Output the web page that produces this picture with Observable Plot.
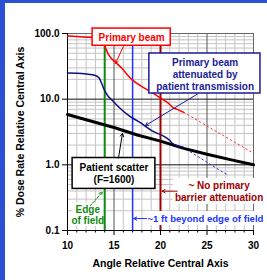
<!DOCTYPE html>
<html>
<head>
<meta charset="utf-8">
<script src="https://cdn.jsdelivr.net/npm/d3@7"></script>
<script src="https://cdn.jsdelivr.net/npm/@observablehq/plot@0.6"></script>
<style>
  html, body { margin: 0; padding: 0; background: #fff; }
  #wrap { position: relative; width: 267px; height: 280px; overflow: hidden; }
  #stripTop { position: absolute; left: 0; top: 0; width: 267px; height: 3px; background: #2b50d4; }
  #stripLeft { position: absolute; left: 0; top: 0; width: 5px; height: 280px; background: #2b50d4; }
</style>
</head>
<body>
<div id="wrap"><div id="chart"></div><div id="stripTop"></div><div id="stripLeft"></div></div>
<script>
// ---- data ----
const primaryAngle = [10, 11, 12, 13, 13.6, 13.85, 14.1, 14.4, 14.7, 15.2, 15.9, 16.5, 17.0, 18.0, 19.0, 19.6, 20.4, 21.0, 21.3, 21.8, 22.5];
const primaryDose  = [92, 90, 88, 85.5, 82, 74, 60, 48, 42, 36, 29, 23, 19.5, 15.5, 12.8, 11.3, 9.6, 8.3, 7.5, 7.0, 6.3];
const primaryExtAngle = [22.5, 30];
const primaryExtDose  = [6.3, 1.5];

const attenAngle = [10, 11, 12, 13, 13.4, 13.7, 13.95, 14.3, 14.8, 15.5, 16.6, 17.7, 19.1, 20.6, 21.0, 21.3, 22.4];
const attenDose  = [25, 24.8, 24.2, 23, 21, 17, 14, 11.4, 9.6, 7.6, 5.6, 4.5, 3.3, 2.6, 2.35, 2.1, 1.86];
const attenExtAngle = [22.4, 27.2];
const attenExtDose  = [1.86, 0.7];

const scatterAngle = [10, 12, 15, 17.5, 20, 22.5, 25, 27.5, 30];
const scatterDose  = [5.85, 4.85, 3.7, 2.85, 2.3, 1.78, 1.45, 1.2, 1.0];

const edgeAngle = [14];
const beyondAngle = [17];
const barrierAngle = [20];

const xTicks = [10, 15, 20, 25, 30];
const xMinor = [11,12,13,14,16,17,18,19,21,22,23,24,26,27,28,29];
const yTicks = [0.1, 1, 10, 100];
const yMinor = [0.2,0.3,0.4,0.5,0.6,0.7,0.8,0.9,2,3,4,5,6,7,8,9,20,30,40,50,60,70,80,90];

const xTitle = "Angle Relative Central Axis";
const yTitle = "% Dose Rate Relative Central Axis";

// ---- annotation layout (data units) ----
const notes = {
  primary: {box: [12.7, 21.1, 65, 119], text: "Primary beam", at: [16.9, 88], arrow: [16.0, 63, 15.16, 35]},
  atten: {box: [18.8, 30.75, 12.2, 49.6], text: "Primary beam\nattenuated by\npatient transmission", at: [24.8, 24.0], arrow: [23.98, 12.0, 18.39, 3.97]},
  scatter: {box: [10.55, 19.45, 0.43, 1.27], text: "Patient scatter\n(F=1600)", at: [15.0, 0.74], arrow: [15.48, 1.27, 15.91, 3.0]},
  edge: {box: [10.6, 13.85, 0.115, 0.262], text: "Edge\nof field", at: [12.18, 0.171], arrow: [12.47, 0.24, 13.73, 0.383]},
  beyond: {box: [18.4, 31.6, 0.119, 0.195], text: "~1 ft beyond edge of field", at: [18.6, 0.152], arrow: [18.5, 0.152, 17.13, 0.152]},
  barrier: {box: [21.4, 31.2, 0.25, 0.62], text: "~ No primary\nbarrier attenuation", at: [26.3, 0.393], arrow: [21.8, 0.397, 20.18, 0.397]}
};

const pts = (xs, ys) => xs.map((x, i) => ({x, y: ys[i]}));

const RED = "#ff0000", NAVY = "#1c1c96", GREEN = "#118a11", BLUE = "#2233ff", DARKRED = "#a00000";

function box(n, stroke) {
  const [x1, x2, y1, y2] = n.box;
  return Plot.rect([n], {x1: () => x1, x2: () => x2, y1: () => y1, y2: () => y2, fill: "white", stroke: stroke || "none", strokeWidth: 1.5});
}
function label(n, fill, opts = {}) {
  return Plot.text([n], {x: () => n.at[0], y: () => n.at[1], text: () => n.text, fill, fontWeight: "bold", fontSize: 10, lineHeight: 1.2, ...opts});
}
function arrow(n, stroke, opts = {}) {
  const [x1, y1, x2, y2] = n.arrow;
  return Plot.arrow([n], {x1: () => x1, y1: () => y1, x2: () => x2, y2: () => y2, stroke, strokeWidth: 1, headLength: 5, ...opts});
}

const chart = Plot.plot({
  width: 267,
  height: 280,
  marginLeft: 67,
  marginRight: 14,
  marginTop: 33,
  marginBottom: 50,
  style: {fontFamily: "'Liberation Sans', Arial, sans-serif", fontSize: "10px", fontWeight: "bold", background: "transparent", color: "black"},
  x: {domain: [10, 30]},
  y: {type: "log", domain: [0.1, 100]},
  marks: [
    // grid
    Plot.ruleX(xMinor, {stroke: "#c4c4c4", strokeWidth: 1}),
    Plot.ruleY(yMinor, {stroke: "#c4c4c4", strokeWidth: 1}),
    Plot.ruleX([15, 20, 25], {stroke: "#555", strokeWidth: 1}),
    Plot.ruleX([30], {stroke: "#666", strokeWidth: 1}),
    Plot.ruleY([100], {stroke: "#666", strokeWidth: 1}),
    Plot.ruleY([1, 10], {stroke: "#111", strokeWidth: 1}),
    Plot.ruleX([10], {stroke: "black", strokeWidth: 1}),
    Plot.ruleY([0.1], {stroke: "black", strokeWidth: 1.2}),
    // markers
    Plot.ruleX(edgeAngle, {stroke: GREEN, strokeWidth: 2}),
    Plot.ruleX(beyondAngle, {stroke: BLUE, strokeWidth: 1.5}),
    Plot.ruleX(barrierAngle, {stroke: DARKRED, strokeWidth: 2}),
    // curves
    Plot.line(pts(primaryExtAngle, primaryExtDose), {x: "x", y: "y", stroke: "#ff3030", strokeWidth: 1, strokeDasharray: "1.5,3"}),
    Plot.line(pts(attenExtAngle, attenExtDose), {x: "x", y: "y", stroke: "#2a2ad0", strokeWidth: 1, strokeDasharray: "1.5,3"}),
    Plot.line(pts(scatterAngle, scatterDose), {x: "x", y: "y", stroke: "black", strokeWidth: 3}),
    Plot.line(pts(attenAngle, attenDose), {x: "x", y: "y", stroke: "#10107a", strokeWidth: 1.5, curve: "monotone-x"}),
    Plot.line(pts(primaryAngle, primaryDose), {x: "x", y: "y", stroke: RED, strokeWidth: 1.5, curve: "monotone-x"}),
    // annotations
    box(notes.edge), box(notes.beyond), box(notes.barrier),
    label(notes.edge, GREEN, {lineHeight: 1.1}),
    label(notes.beyond, BLUE, {textAnchor: "start", fontSize: 9.6}),
    label(notes.barrier, DARKRED),
    arrow(notes.edge, GREEN, {strokeDasharray: "2,1.5"}),
    arrow(notes.beyond, BLUE),
    arrow(notes.barrier, DARKRED),
    box(notes.primary, RED), label(notes.primary, RED), arrow(notes.primary, RED),
    box(notes.atten, NAVY), label(notes.atten, NAVY), arrow(notes.atten, NAVY),
    box(notes.scatter, "black"), label(notes.scatter, "black"), arrow(notes.scatter, "black"),
    // axes
    Plot.axisY(yTicks, {tickSize: 5, tickPadding: 3, tickFormat: d => d.toFixed(1), label: null}),
    Plot.axisX(xTicks, {tickSize: 5, tickPadding: 6, label: null}),
    Plot.axisX(xMinor, {tickSize: 2.5, tickFormat: () => "", label: null}),
    Plot.text([xTitle], {frameAnchor: "bottom", dy: 33, textAnchor: "middle", lineAnchor: "middle", text: d => d, fontWeight: "bold", fontSize: 10.5}),
    Plot.text([yTitle], {frameAnchor: "left", dx: -47, rotate: -90, textAnchor: "middle", lineAnchor: "middle", text: d => d, fontWeight: "bold", fontSize: 10.5})
  ]
});
document.getElementById("chart").appendChild(chart);
</script>
</body>
</html>
